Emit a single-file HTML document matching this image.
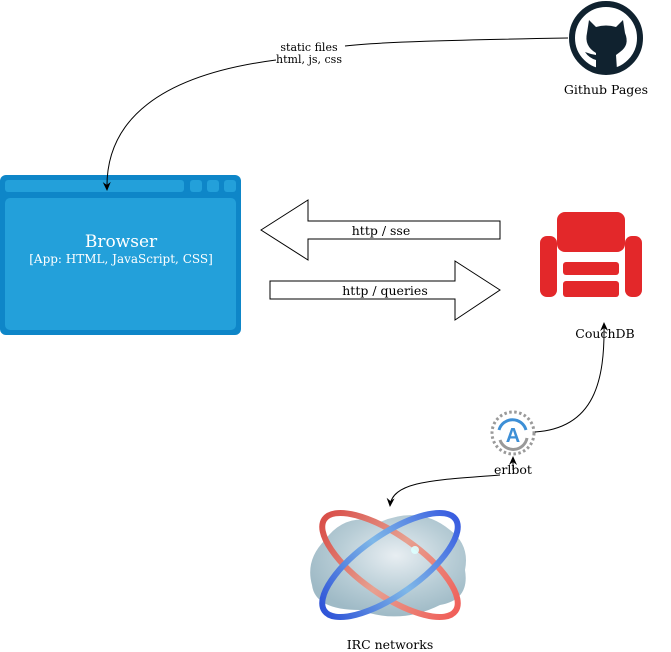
<!DOCTYPE html>
<html><head><meta charset="utf-8"><style>body{margin:0;background:#fff}svg{display:block}</style></head><body>
<svg width="671" height="652" viewBox="0 0 671 652" xmlns="http://www.w3.org/2000/svg" font-family="DejaVu Serif, Liberation Serif, serif">
<defs>
<marker id="ah" markerWidth="10" markerHeight="10" refX="8" refY="5" orient="auto" markerUnits="userSpaceOnUse"><path d="M0,1 L9,5 L0,9 L3,5 z" fill="#000"/></marker>
<radialGradient id="cl" cx="0.55" cy="0.4" r="0.6"><stop offset="0" stop-color="#e8eef2"/><stop offset="0.6" stop-color="#b8cdd6"/><stop offset="1" stop-color="#9fbac6"/></radialGradient>
<linearGradient id="rr" x1="0" x2="1"><stop offset="0" stop-color="#d9504a"/><stop offset="0.5" stop-color="#e7a090"/><stop offset="1" stop-color="#f0605a"/></linearGradient>
<linearGradient id="br" x1="0" x2="1"><stop offset="0" stop-color="#3055d8"/><stop offset="0.5" stop-color="#7fb8e8"/><stop offset="1" stop-color="#3a5ee0"/></linearGradient>
</defs>
<!-- browser -->
<rect x="0" y="175" width="241" height="160" rx="6" fill="#0e86c8"/>
<rect x="5" y="180" width="179" height="12" rx="3" fill="#23a0da"/>
<rect x="190" y="180" width="12" height="12" rx="3" fill="#23a0da"/>
<rect x="207" y="180" width="12" height="12" rx="3" fill="#23a0da"/>
<rect x="224" y="180" width="12" height="12" rx="3" fill="#23a0da"/>
<rect x="5" y="198" width="231" height="132" rx="5" fill="#23a0da"/>
<text x="121" y="247" font-size="17" fill="#fff" text-anchor="middle">Browser</text>
<text x="121" y="263" font-size="12" fill="#fff" text-anchor="middle">[App: HTML, JavaScript, CSS]</text>
<!-- github -->
<circle cx="606" cy="38" r="34" fill="none" stroke="#10222f" stroke-width="6"/>
<path d="M589,20 L596,27 Q606,24 616,27 L623,20 L625,33 Q630,45 620,52 L616,55 L617,70 L596,70 L596,60 Q589,58 585,52 Q590,54 596,55 L596,53 Q584,46 587,33 z" fill="#10222f"/>
<text x="606" y="94" font-size="12.5" text-anchor="middle" fill="#000">Github Pages</text>
<path d="M568,38 C450,40 380,42 345,46" fill="none" stroke="#000" stroke-width="1"/>
<path d="M276,60 C160,75 105,120 107,190" fill="none" stroke="#000" stroke-width="1" marker-end="url(#ah)"/>
<text x="309" y="51" font-size="11" text-anchor="middle">static files</text>
<text x="309" y="63" font-size="11" text-anchor="middle">html, js, css</text>
<!-- arrows -->
<path d="M261,230 L308,200 L308,221 L500,221 L500,239 L308,239 L308,260 z" fill="#fff" stroke="#000" stroke-width="1"/>
<text x="381" y="235" font-size="12.5" text-anchor="middle">http / sse</text>
<path d="M500,290 L455,261 L455,281 L270,281 L270,299 L455,299 L455,320 z" fill="#fff" stroke="#000" stroke-width="1"/>
<text x="385" y="295" font-size="12.5" text-anchor="middle">http / queries</text>
<!-- couchdb -->
<g fill="#e3282a">
<rect x="557" y="212" width="68" height="40" rx="8"/>
<rect x="540" y="236" width="17" height="61" rx="7"/>
<rect x="625" y="236" width="17" height="61" rx="7"/>
<rect x="563" y="262" width="56" height="13" rx="3"/>
<rect x="563" y="281" width="56" height="16" rx="3"/>
</g>
<text x="605" y="338" font-size="12.5" text-anchor="middle">CouchDB</text>
<!-- erlbot -->
<circle cx="513" cy="433" r="21" fill="none" stroke="#9a9a9a" stroke-width="3" stroke-dasharray="2.5 2.5"/>
<path d="M499,430 A14,14 0 0 1 526,430" fill="none" stroke="#3d8fd6" stroke-width="3"/>
<path d="M527,438 A14,14 0 0 1 500,440" fill="none" stroke="#999" stroke-width="3"/>
<text x="513" y="442" font-size="20" font-family="Liberation Sans, sans-serif" font-weight="bold" fill="#3d8fd6" text-anchor="middle">A</text>
<text x="513" y="474" font-size="12.5" text-anchor="middle">erlbot</text>
<path d="M535,432 C595,428 605,380 604,323" fill="none" stroke="#000" marker-end="url(#ah)"/>
<path d="M513,470 L513,457" fill="none" stroke="#000" marker-end="url(#ah)"/>
<path d="M500,475 C440,480 392,480 390,506" fill="none" stroke="#000" marker-end="url(#ah)"/>
<!-- irc -->
<path d="M325,540 Q345,512 380,522 Q420,505 450,530 Q470,545 465,570 Q470,600 440,605 Q400,625 360,610 Q315,610 312,585 Q305,560 325,540 z" fill="url(#cl)"/>
<ellipse cx="390" cy="565" rx="80" ry="30" transform="rotate(35 390 565)" fill="none" stroke="url(#rr)" stroke-width="6"/>
<ellipse cx="390" cy="565" rx="80" ry="30" transform="rotate(-35 390 565)" fill="none" stroke="url(#br)" stroke-width="6"/>
<circle cx="415" cy="550" r="4" fill="#dff" opacity="0.9"/>
<text x="390" y="649" font-size="12.5" text-anchor="middle">IRC networks</text>
</svg>
</body></html>
